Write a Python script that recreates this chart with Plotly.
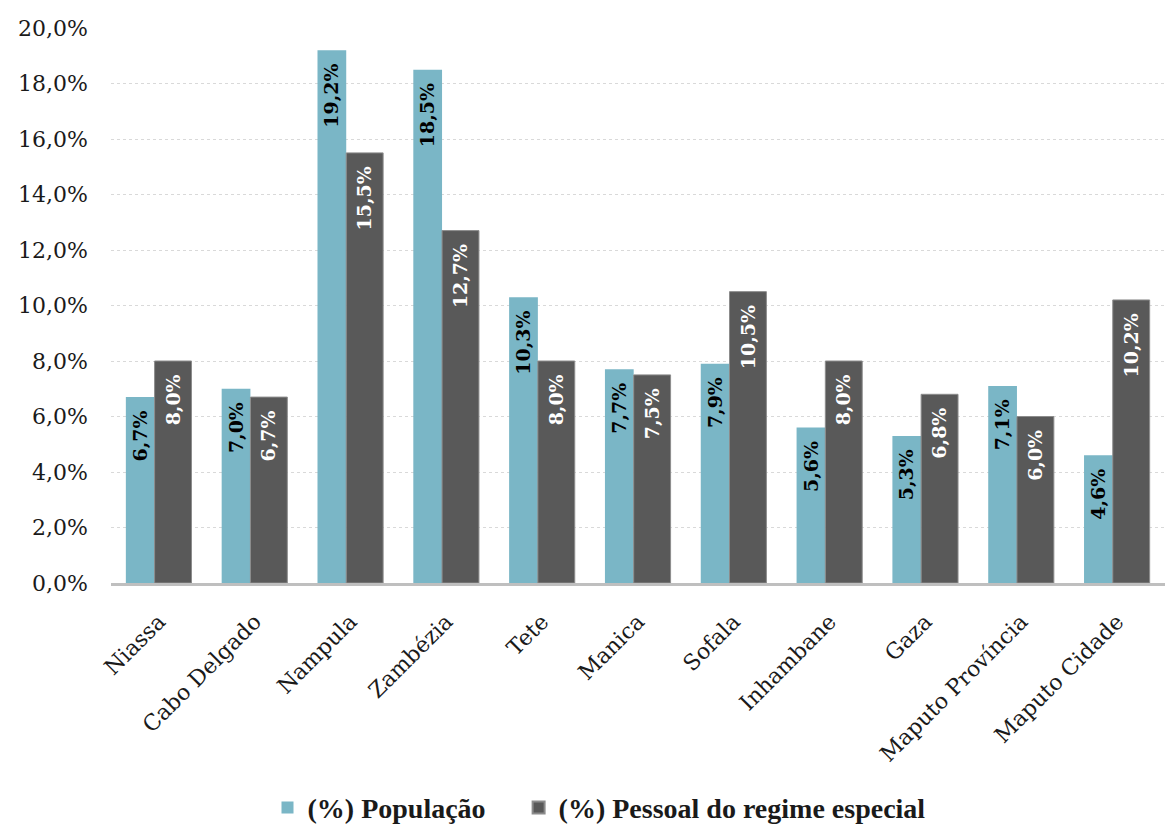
import plotly.graph_objects as go

# Províncias e percentagens
provincias = ["Niassa", "Cabo Delgado", "Nampula", "Zambézia", "Tete", "Manica",
              "Sofala", "Inhambane", "Gaza", "Maputo Província", "Maputo Cidade"]
populacao = [6.7, 7.0, 19.2, 18.5, 10.3, 7.7, 7.9, 5.6, 5.3, 7.1, 4.6]
pessoal_regime_especial = [8.0, 6.7, 15.5, 12.7, 8.0, 7.5, 10.5, 8.0, 6.8, 6.0, 10.2]

tick_vals = [0, 2, 4, 6, 8, 10, 12, 14, 16, 18, 20]
tick_text = ["0,0%", "2,0%", "4,0%", "6,0%", "8,0%", "10,0%",
             "12,0%", "14,0%", "16,0%", "18,0%", "20,0%"]

serif = "DejaVu Serif"
# small gap kept between the label and the top of its bar
TOP_PAD = "\u00a0\u2009"
# extra room between the two legend entries
LEGEND_GAP = "\u00a0" * 4


def pct(v):
    return f"{v:.1f}".replace(".", ",") + "%" + TOP_PAD


fig = go.Figure()

fig.add_trace(go.Bar(
    x=provincias, y=populacao, name="(%) População" + LEGEND_GAP,
    marker=dict(color="#7AB6C6", line=dict(width=0)),
    width=0.30, offset=-0.345,
    text=[pct(v) for v in populacao],
    textposition="inside", insidetextanchor="end", textangle=-90,
    textfont=dict(family=serif, size=20, color="#000000", weight="bold"),
    cliponaxis=False,
))
fig.add_trace(go.Bar(
    x=provincias, y=pessoal_regime_especial, name="(%) Pessoal do regime especial",
    marker=dict(color="#595959", line=dict(width=1, color="#8C8C8C")),
    width=0.385, offset=-0.045,
    text=[pct(v) for v in pessoal_regime_especial],
    textposition="inside", insidetextanchor="end", textangle=-90,
    textfont=dict(family=serif, size=20, color="#FFFFFF", weight="bold"),
    cliponaxis=False,
))

fig.update_layout(
    width=1165, height=825,
    barmode="overlay",
    plot_bgcolor="white", paper_bgcolor="white",
    margin=dict(l=111, r=0, t=28, b=242, autoexpand=False),
    font=dict(family=serif, size=22, color="#1A1A1A"),
    showlegend=True,
    legend=dict(orientation="h", x=0.463, xanchor="center", y=-0.405, yanchor="middle",
                font=dict(family="Liberation Serif", size=28, color="#1A1A1A", weight="bold"),
                itemsizing="constant", itemwidth=30, traceorder="normal"),
    uniformtext=dict(minsize=8, mode="show"),
)

fig.update_xaxes(
    tickangle=-45, showline=True, linecolor="#BFBFBF", linewidth=3,
    ticks="", tickfont=dict(family=serif, size=22, color="#1A1A1A"),
    ticklabelstandoff=14,
    range=[-0.5, 10.5],
)
fig.update_yaxes(
    range=[0, 20], tickvals=tick_vals, ticktext=tick_text,
    showgrid=True, gridcolor="#D9D9D9", griddash="dot", gridwidth=1,
    zeroline=False, showline=False, ticks="",
    ticklabelstandoff=22,
    tickfont=dict(family=serif, size=22, color="#1A1A1A"),
)

fig.write_html("out.html")
